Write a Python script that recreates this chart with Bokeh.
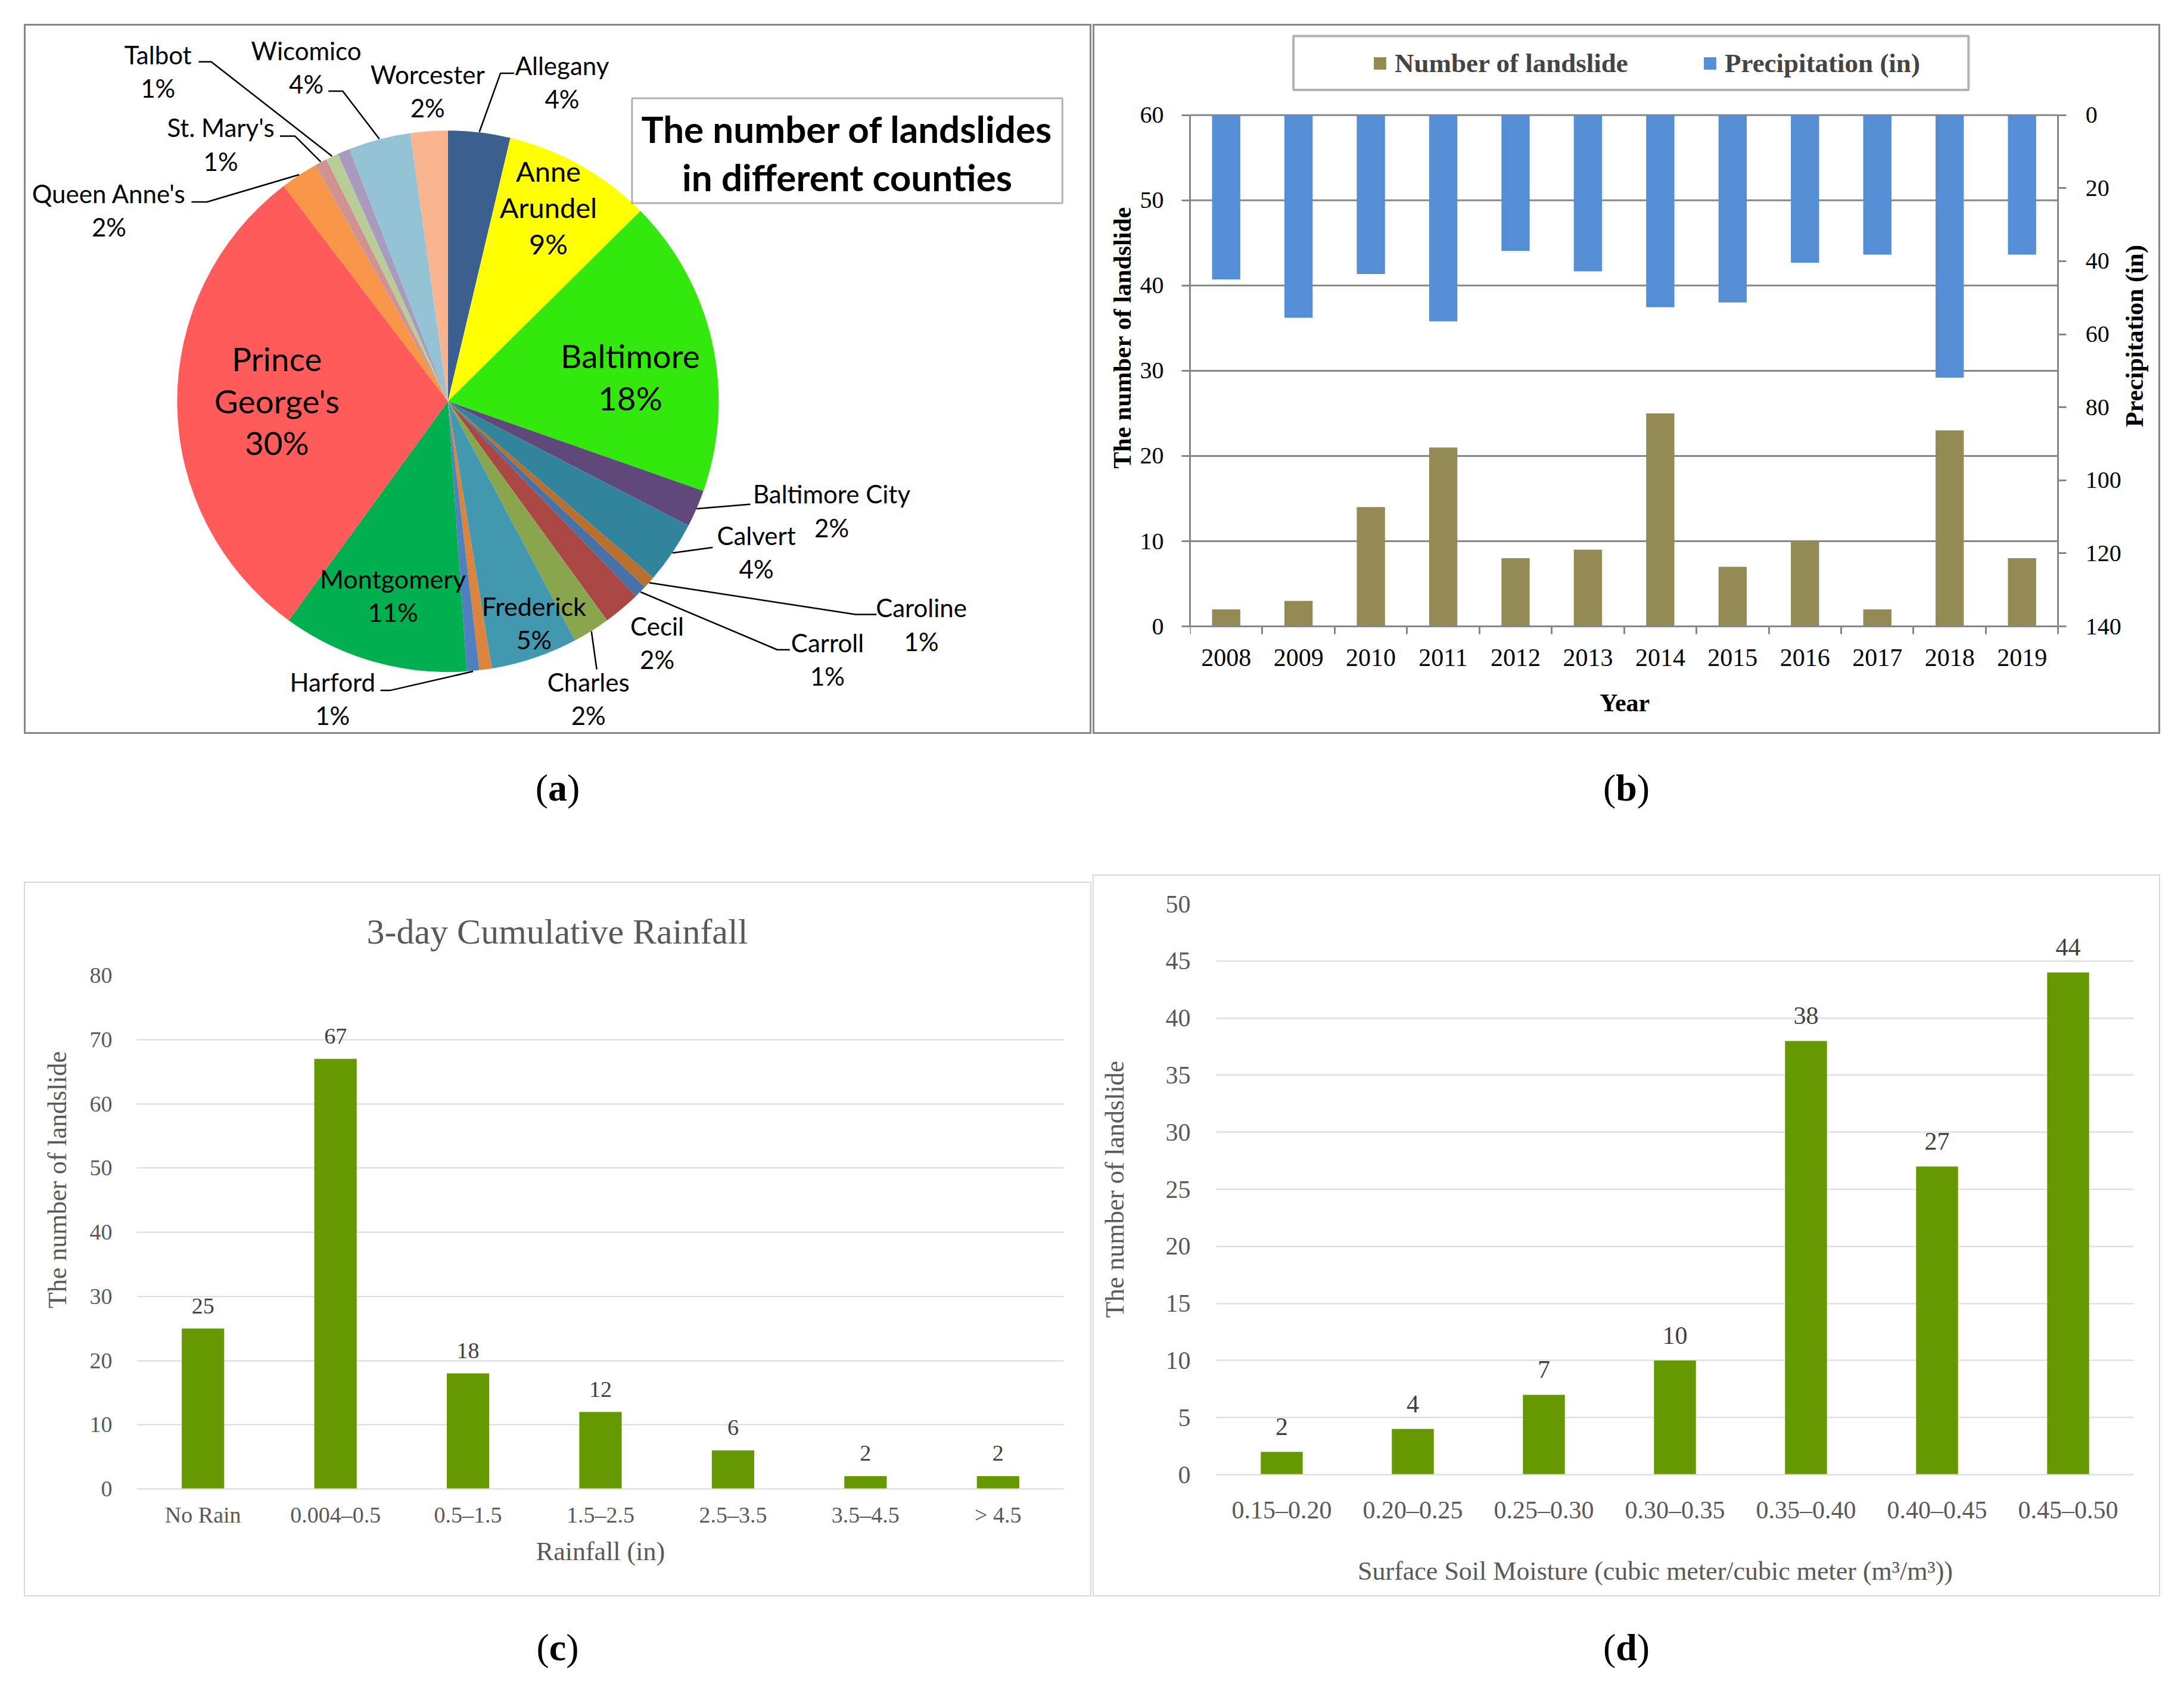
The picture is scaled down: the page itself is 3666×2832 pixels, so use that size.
import numpy as np
from bokeh.plotting import figure
from bokeh.models import (ColumnDataSource, Range1d, FactorRange, LinearAxis, FixedTicker,
                          Legend, LegendItem, BoxAnnotation, Div, Spacer)
from bokeh.layouts import column, row
from bokeh.core.properties import value
from bokeh.embed import file_html
from bokeh.resources import INLINE

SANS = "Lato"
SERIF = "Liberation Serif"
NBSP = "\u00a0"

# ---------------- data ----------------
# (a) landslides per county, clockwise from 12 o'clock ("" = slice without a label)
counties = ["Allegany", "Anne Arundel", "Baltimore", "Baltimore City", "Calvert",
            "Caroline", "Carroll", "Cecil", "Charles", "Frederick", "", "Harford",
            "Montgomery", "Prince George's", "Queen Anne's", "St. Mary's", "Talbot", "",
            "Wicomico", "Worcester"]
county_counts = [5, 12, 24, 3, 5, 1, 1, 3, 3, 7, 1, 1, 15, 40, 3, 1, 1, 1, 5, 3]
county_colors = ["#3B5F8E", "#FFFF00", "#33E80C", "#5F497A", "#31849B",
                 "#B9702F", "#4672A8", "#AA4643", "#89A54E", "#4198AF", "#DB843D", "#5080C0",
                 "#00B050", "#FF5B5B", "#F79646", "#D19392", "#B9CD96", "#A99BBD",
                 "#93C3D4", "#F9B590"]

# (b) yearly landslides and precipitation
years = ["2008", "2009", "2010", "2011", "2012", "2013", "2014", "2015", "2016", "2017", "2018", "2019"]
landslides = [2, 3, 14, 21, 8, 9, 25, 7, 10, 2, 23, 8]
precip_in = [45.0, 55.5, 43.5, 56.5, 37.2, 42.8, 52.6, 51.3, 40.4, 38.2, 71.9, 38.2]

# (c) 3-day cumulative rainfall
rain_bins = ["No Rain", "0.004\u20130.5", "0.5\u20131.5", "1.5\u20132.5", "2.5\u20133.5", "3.5\u20134.5", "> 4.5"]
rain_counts = [25, 67, 18, 12, 6, 2, 2]

# (d) surface soil moisture
soil_bins = ["0.15\u20130.20", "0.20\u20130.25", "0.25\u20130.30", "0.30\u20130.35",
             "0.35\u20130.40", "0.40\u20130.45", "0.45\u20130.50"]
soil_counts = [2, 4, 7, 10, 38, 27, 44]

W = 1792  # outer width of each panel (border included)


def boxed(color, w):
    return {"border": f"{w}px solid {color}"}


# ---------------- (a) pie ----------------
HA = 1192
pa = figure(width=W, height=HA, x_range=Range1d(0, W - 6), y_range=Range1d(0, HA - 6),
            x_axis_location=None, y_axis_location=None, min_border=0, frame_align=False,
            toolbar_location=None, output_backend="svg", outline_line_color=None,
            styles=boxed("#878787", 3))
pa.grid.visible = False

total = sum(county_counts)
frac = np.array(county_counts) / total
ends = np.cumsum(frac) * 2 * np.pi
starts = ends - frac * 2 * np.pi
mids = (starts + ends) / 2
cx, cy, rad = 706, 559, 453

pie_src = ColumnDataSource(dict(start=np.pi / 2 - starts, end=np.pi / 2 - ends, color=county_colors))
pa.wedge(x=cx, y=cy, radius=rad, start_angle="start", end_angle="end", direction="clock",
         fill_color="color", line_color=None, source=pie_src)

pct = {n: f"{round(100 * c / total)}%" for n, c in zip(counties, county_counts) if n}
mid_of = {n: m for n, m in zip(counties, mids) if n}

# outside labels: block centre and elbow points of the leader line
outside = {
    "Allegany": (897, 1092, [(817, 1107), (794, 1107)]),
    "Worcester": (672, 1077, []),
    "Wicomico": (469, 1117, [(506, 1077), (530, 1077)]),
    "Talbot": (221, 1110, [(289, 1126), (310, 1126)]),
    "St. Mary's": (326, 988, [(425, 1002), (450, 1002)]),
    "Queen Anne's": (139, 878, [(277, 892), (303, 892)]),
    "Baltimore City": (1348, 376, [(1212, 387)]),
    "Calvert": (1222, 307, [(1149, 315)]),
    "Caroline": (1498, 186, [(1423, 203), (1388, 203)]),
    "Carroll": (1341, 128, [(1278, 144), (1257, 144)]),
    "Cecil": (1056, 156, []),
    "Charles": (941, 62, [(955, 111)]),
    "Harford": (513, 62, [(593, 76), (609, 76)]),
}
tx, ty, tt = [], [], []
lx, ly = [], []
for name, (x, y, elbows) in outside.items():
    tx += [x, x]
    ty += [y + 28, y - 28]
    tt += [name, pct[name]]
    if elbows:
        m = mid_of[name]
        ex, ey = cx + rad * np.sin(m), cy + rad * np.cos(m)
        lx.append([p[0] for p in elbows] + [ex])
        ly.append([p[1] for p in elbows] + [ey])
pa.multi_line(xs=lx, ys=ly, line_color="black", line_width=2.5)
pa.text(x=tx, y=ty, text=tt, text_font=value(SANS), text_font_size="42px",
        text_align="center", text_baseline="middle", text_color="black")

# inside labels: centre, lines, font size, line spacing
inside = [
    (874, 883, ["Anne", "Arundel", pct["Anne Arundel"]], 47, 61),
    (1011, 600, ["Baltimore", pct["Baltimore"]], 55, 70),
    (420, 560, ["Prince", "George's", pct["Prince George's"]], 55, 70),
    (614, 235, ["Montgomery", pct["Montgomery"]], 43, 56),
    (850, 189, ["Frederick", pct["Frederick"]], 43, 56),
]
for x, y, lines, fs, sp in inside:
    n = len(lines)
    ys = [y + sp * ((n - 1) / 2 - i) for i in range(n)]
    pa.text(x=[x] * n, y=ys, text=lines, text_font=value(SANS), text_font_size=f"{fs}px",
            text_align="center", text_baseline="middle", text_color="black")

pa.add_layout(BoxAnnotation(left=1014, right=1734, bottom=890, top=1065, fill_alpha=0,
                            line_color="black", line_width=3))
pa.text(x=[1374, 1374], y=[1014, 934], text=["The number of landslides", "in different counties"],
        text_font=value(SANS), text_font_style="bold", text_font_size="62px",
        text_align="center", text_baseline="middle", text_color="black")

# ---------------- (b) dual axis bars ----------------
# the frame fills the panel right of the left axis; the bar area is 12 years wide
# and 60 landslides tall inside it, the rest holds legend, right axis and titles
GRAY = "#878787"
PLOT_H = 854      # px from the 60 line down to the 0 line
EXTRA = 137       # px above the 60 line (legend)
BELOW = 183       # px below the 0 line (year labels, "Year")
FRAME_W = 1452    # px covered by the twelve years
LEFT_B = 160
FRAME_ALL = W - 6 - LEFT_B
n_years = len(years)
px_per_ls = PLOT_H / 60
px_per_pr = PLOT_H / 140
x_end = n_years * FRAME_ALL / FRAME_W

pb = figure(width=W, height=HA, x_range=Range1d(0, x_end),
            y_range=Range1d(-BELOW / px_per_ls, 60 + EXTRA / px_per_ls),
            toolbar_location=None, output_backend="svg", outline_line_color=None,
            min_border_left=LEFT_B, min_border_right=0, min_border_top=12, min_border_bottom=0,
            frame_align=False, styles=boxed(GRAY, 3))
pb.extra_y_ranges = {"precip": Range1d(140 + BELOW / px_per_pr, -EXTRA / px_per_pr)}
xs = [i + 0.5 for i in range(n_years)]


def bx(px):
    return px / (FRAME_W / n_years)


def by(px):
    return px / px_per_ls


# horizontal grid lines, only across the year span
grid_vals = list(range(0, 61, 10))
pb.segment(x0=0, x1=n_years, y0=grid_vals, y1=grid_vals, line_color=GRAY, line_width=3)
pb.grid.visible = False

r_ls = pb.vbar(x=xs, top=landslides, bottom=0, width=0.39, fill_color="#948A54", line_color=None)
r_pr = pb.vbar(x=xs, top=0, bottom=precip_in, width=0.39, fill_color="#558ED5", line_color=None,
               y_range_name="precip")

xa = pb.xaxis[0]
xa.fixed_location = 0
xa.ticker = FixedTicker(ticks=xs, minor_ticks=list(range(n_years + 1)))
xa.bounds = (0, n_years)
xa.major_label_overrides = {x: y for x, y in zip(xs, years)}
xa.major_tick_out = 0
xa.major_tick_in = 0
xa.minor_tick_out = 13
xa.minor_tick_in = 0
xa.minor_tick_line_color = GRAY
xa.minor_tick_line_width = 3
xa.major_label_standoff = 25

ya = pb.yaxis[0]
ya.ticker = FixedTicker(ticks=grid_vals)
ya.bounds = (0, 60)
# leading no-break spaces lift the centred title, as in the source
ya.axis_label = NBSP * 15 + "The number of landslide"
ya.axis_label_standoff = 4
ya.major_label_standoff = 30

ra = LinearAxis(y_range_name="precip", ticker=FixedTicker(ticks=list(range(0, 141, 20))),
                bounds=(0, 140), fixed_location=n_years)
ra.major_label_standoff = 32
pb.add_layout(ra, "right")

for ax in [xa, ya, ra]:
    ax.axis_line_color = GRAY
    ax.axis_line_width = 3
    ax.major_tick_line_color = GRAY
    ax.major_tick_line_width = 3
    ax.major_label_text_font = SERIF
    ax.major_label_text_font_size = "42px"
    ax.major_label_text_color = "black"
    ax.axis_label_text_font = SERIF
    ax.axis_label_text_font_style = "bold"
    ax.axis_label_text_font_size = "42px"
    ax.axis_label_text_color = "black"
for ax in [ya, ra]:
    ax.major_tick_out = 14
    ax.major_tick_in = 0
    ax.minor_tick_line_color = None
    ax.major_label_text_font_size = "40px"

# axis titles that sit inside the frame
pb.text(x=[bx(1580)], y=[by(485)], text=["Precipitation (in)"], angle=np.pi / 2,
        text_font=value(SERIF), text_font_style="bold", text_font_size="42px",
        text_color="black", text_align="center", text_baseline="middle")
pb.text(x=[bx(727)], y=[by(-128)], text=["Year"],
        text_font=value(SERIF), text_font_style="bold", text_font_size="42px",
        text_color="black", text_align="center", text_baseline="middle")

legend = Legend(items=[LegendItem(label="Number of landslide", renderers=[r_ls]),
                       LegendItem(label="Precipitation (in)", renderers=[r_pr])],
                location=(306, 920 + BELOW), orientation="horizontal", border_line_color=None,
                background_fill_alpha=0, padding=0, spacing=46, glyph_width=26, glyph_height=26,
                label_standoff=12, label_width=470, label_text_font=SERIF,
                label_text_font_style="bold", label_text_font_size="45px")
pb.add_layout(legend)
pb.add_layout(BoxAnnotation(left=bx(173), right=bx(1302), bottom=by(896), top=by(986),
                            fill_alpha=0, line_color="black", line_width=4))

# ---------------- (c) and (d) simple bars ----------------
LIGHT = "#D9D9D9"
TXT = "#595959"
GREEN = "#669900"


def simple_bars(bins, counts, height, ymax, step, borders, tick_fs, title_fs, label_off):
    p = figure(width=W, height=height, x_range=FactorRange(*bins), y_range=Range1d(0, ymax),
               toolbar_location=None, output_backend="svg", outline_line_color=None,
               min_border_left=borders[0], min_border_right=borders[1],
               min_border_top=borders[2], min_border_bottom=borders[3],
               frame_align=False, styles=boxed(LIGHT, 2))
    p.vbar(x=bins, top=counts, width=0.32, fill_color=GREEN, line_color=None)
    p.text(x=bins, y=counts, text=[str(c) for c in counts], text_font=value(SERIF),
           text_font_size=f"{tick_fs}px", text_color="#404040", text_align="center",
           text_baseline="middle", y_offset=-label_off)
    p.xgrid.visible = False
    p.ygrid.ticker = FixedTicker(ticks=list(range(0, ymax + 1, step)))
    p.ygrid.grid_line_color = LIGHT
    p.ygrid.grid_line_width = 2
    p.yaxis.ticker = FixedTicker(ticks=list(range(0, ymax + 1, step)))
    p.yaxis.axis_line_color = None
    p.xaxis.axis_line_color = LIGHT
    p.xaxis.axis_line_width = 2
    for ax in [p.xaxis[0], p.yaxis[0]]:
        ax.major_tick_line_color = None
        ax.minor_tick_line_color = None
        ax.major_label_text_font = SERIF
        ax.major_label_text_font_size = f"{tick_fs}px"
        ax.major_label_text_color = TXT
        ax.axis_label_text_font = SERIF
        ax.axis_label_text_font_style = "normal"
        ax.axis_label_text_font_size = f"{title_fs}px"
        ax.axis_label_text_color = TXT
    return p


pc = simple_bars(rain_bins, rain_counts, 1200, 80, 10, (187, 48, 155, 183), 38, 44, 38)
pc.xaxis.axis_label = "Rainfall (in)"
pc.xaxis.major_label_standoff = 16
pc.xaxis.axis_label_standoff = 13
# leading no-break spaces push the centred title up along the axis, as in the source
pc.yaxis.axis_label = NBSP * 16 + "The number of landslide"
pc.yaxis.major_label_standoff = 35
pc.yaxis.axis_label_standoff = 27
pc.title.text = "3-day Cumulative Rainfall"
pc.title.align = "left"
pc.title.offset = 386
pc.title.standoff = 82
pc.title.text_font = SERIF
pc.title.text_font_style = "normal"
pc.title.text_font_size = "60px"
pc.title.text_color = TXT

pd_ = simple_bars(soil_bins, soil_counts, 1212, 50, 5, (205, 47, 47, 207), 42, 44, 42)
pd_.xaxis.axis_label = "Surface Soil Moisture (cubic meter/cubic meter (m\u00b3/m\u00b3))" + NBSP * 6
pd_.yaxis.axis_label = "The number of landslide"
pd_.xaxis.major_label_standoff = 30
pd_.xaxis.axis_label_standoff = 52
pd_.yaxis.major_label_standoff = 37
pd_.yaxis.axis_label_standoff = 58


# ---------------- layout ----------------
def tag(letter, h, pad):
    html = (f'<div style="width:{W}px;text-align:center;font-family:\'{SERIF}\';'
            f'font-size:64px;line-height:64px;padding-top:{pad}px;color:black">'
            f'(<b>{letter}</b>)</div>')
    return Div(text=html, width=W, height=h, margin=0)


layout = column(
    Spacer(height=40),
    row(Spacer(width=40), pa, Spacer(width=2), pb),
    row(Spacer(width=40), tag("a", 236, 59), Spacer(width=2), tag("b", 236, 59)),
    row(Spacer(width=40), column(Spacer(height=12), pc), Spacer(width=2), pd_),
    row(Spacer(width=40), tag("c", 130, 54), Spacer(width=2), tag("d", 130, 54)),
)

open("out.html", "w").write(file_html(layout, INLINE))
